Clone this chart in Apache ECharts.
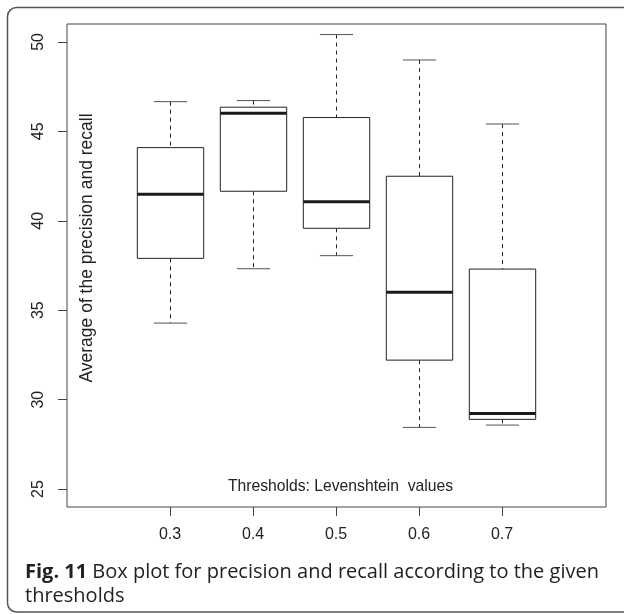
<!DOCTYPE html>
<html>
<head>
<meta charset="utf-8">
<script src="https://cdn.jsdelivr.net/npm/echarts@6/dist/echarts.min.js"></script>
<style>
  html, body { margin: 0; padding: 0; background: #fff; }
  #chart { width: 624px; height: 614px; }
</style>
</head>
<body>
<div id="chart"></div>
<script>
// thresholds on the x axis (Levenshtein values)
const thresholds = [0.3, 0.4, 0.5, 0.6, 0.7]
// box plot statistics
const lowerWhisker = [34.28, 37.32, 38.05, 28.45, 28.58]
const q1 = [37.90, 41.65, 39.58, 32.21, 28.90]
const median = [41.48, 46.01, 41.07, 36.00, 29.23]
const q3 = [44.09, 46.35, 45.77, 42.49, 37.30]
const upperWhisker = [46.66, 46.72, 50.41, 48.99, 45.41]
const yTicks = [25, 30, 35, 40, 45, 50]

const boxData = thresholds.map((t, i) => [t, lowerWhisker[i], q1[i], median[i], q3[i], upperWhisker[i]])

const chart = echarts.init(document.getElementById('chart'))

// R style box: dashed whiskers, staples, box, thick median
function renderBox(params, api) {
  const x = api.value(0)
  const half = api.size([0.1, 0])[0] * 0.4
  const pLow = api.coord([x, api.value(1)])
  const pQ1 = api.coord([x, api.value(2)])
  const pMed = api.coord([x, api.value(3)])
  const pQ3 = api.coord([x, api.value(4)])
  const pHigh = api.coord([x, api.value(5)])
  const cx = Math.round(pMed[0]) + 0.5
  const dark = '#222'
  const staple = '#555'
  return {
    type: 'group',
    children: [
      {
        type: 'line',
        shape: { x1: cx, y1: pHigh[1], x2: cx, y2: pQ3[1] },
        style: { stroke: dark, lineWidth: 1, lineDash: [4, 4] }
      },
      {
        type: 'line',
        shape: { x1: cx, y1: pQ1[1], x2: cx, y2: pLow[1] },
        style: { stroke: dark, lineWidth: 1, lineDash: [4, 4] }
      },
      {
        type: 'line',
        shape: { x1: cx - half / 2, y1: pHigh[1], x2: cx + half / 2, y2: pHigh[1] },
        style: { stroke: staple, lineWidth: 1 }
      },
      {
        type: 'line',
        shape: { x1: cx - half / 2, y1: pLow[1], x2: cx + half / 2, y2: pLow[1] },
        style: { stroke: staple, lineWidth: 1 }
      },
      {
        type: 'rect',
        shape: { x: cx - half, y: pQ3[1], width: half * 2, height: pQ1[1] - pQ3[1] },
        style: { fill: '#fff', stroke: dark, lineWidth: 1 }
      },
      {
        type: 'line',
        shape: { x1: cx - half, y1: pMed[1], x2: cx + half, y2: pMed[1] },
        style: { stroke: '#1a1a1a', lineWidth: 3 }
      }
    ]
  }
}

const option = {
  backgroundColor: '#fff',
  animation: false,
  textStyle: { fontFamily: 'Liberation Sans' },
  title: {
    left: 20,
    top: 555,
    text: '{b|Fig. 11} Box plot for precision and recall according to the given\nthresholds',
    textStyle: {
      fontFamily: 'Open Sans',
      fontSize: 20,
      fontWeight: 'normal',
      color: '#222',
      lineHeight: 24,
      rich: {
        b: { fontFamily: 'Open Sans', fontSize: 20, fontWeight: 'bold', color: '#222', lineHeight: 24 }
      }
    }
  },
  graphic: [
    {
      type: 'rect',
      shape: { x: 7.5, y: 7.5, width: 640, height: 604.5, r: 9 },
      style: { fill: 'none', stroke: '#555', lineWidth: 1.5 },
      silent: true
    }
  ],
  grid: {
    left: 67,
    top: 24,
    width: 539,
    height: 483,
    show: true,
    borderColor: '#444',
    borderWidth: 1,
    outerBoundsMode: 'none'
  },
  xAxis: {
    type: 'value',
    min: 0.1759,
    max: 0.8253,
    name: 'Thresholds: Levenshtein  values',
    nameLocation: 'middle',
    nameGap: -28,
    nameTextStyle: { fontFamily: 'Liberation Sans', fontSize: 15.7, color: '#222', padding: [0, 0, 0, 8] },
    axisLine: { show: false },
    splitLine: { show: false },
    axisTick: { show: true, length: 9, lineStyle: { color: '#444' }, customValues: thresholds },
    axisLabel: {
      customValues: thresholds,
      margin: 20,
      fontFamily: 'Liberation Sans',
      fontSize: 16,
      color: '#222',
      formatter: v => v.toFixed(1)
    }
  },
  yAxis: {
    type: 'value',
    min: 24,
    max: 51,
    name: 'Average of the precision and recall',
    nameLocation: 'middle',
    nameGap: -29,
    nameTextStyle: { fontFamily: 'Liberation Sans', fontSize: 17.5, color: '#222', padding: [0, 0, 0, 35] },
    axisLine: { show: false },
    splitLine: { show: false },
    axisTick: { show: true, length: 9, lineStyle: { color: '#444' }, customValues: yTicks },
    axisLabel: {
      customValues: yTicks,
      rotate: 90,
      margin: 20,
      fontFamily: 'Liberation Sans',
      fontSize: 16,
      color: '#222'
    }
  },
  series: [
    {
      type: 'custom',
      renderItem: renderBox,
      encode: { x: 0, y: [1, 2, 3, 4, 5] },
      data: boxData
    }
  ]
}

chart.setOption(option)
</script>
</body>
</html>
